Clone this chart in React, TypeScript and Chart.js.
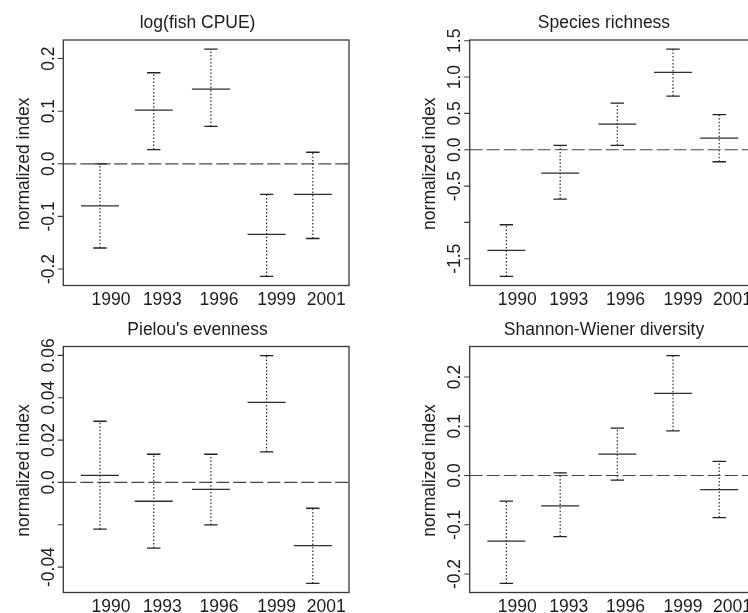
import { useEffect, useRef } from "react";
import { Chart, registerables } from "chart.js";

Chart.register(...registerables);

// Survey years and where each year's interval sits on the shared x axis
const yearLabels = ["1990", "1993", "1996", "1999", "2001"];
const barPositions = [0.77, 1.9, 3.1, 4.27, 5.24];
const labelPositions = [1.0, 2.08, 3.27, 4.48, 5.52];

// log(fish CPUE)
const cpueMean = [-0.08, 0.102, 0.142, -0.134, -0.058];
const cpueLow = [-0.16, 0.027, 0.071, -0.214, -0.142];
const cpueHigh = [0.0, 0.173, 0.218, -0.058, 0.022];
const cpueTicks = [-0.2, -0.1, 0, 0.1, 0.2];
const cpueTickLabels = ["-0.2", "-0.1", "0.0", "0.1", "0.2"];

// Species richness
const richMean = [-1.385, -0.321, 0.353, 1.064, 0.161];
const richLow = [-1.743, -0.679, 0.06, 0.739, -0.165];
const richHigh = [-1.032, 0.06, 0.642, 1.385, 0.482];
const richTicks = [-1.5, -1.0, -0.5, 0, 0.5, 1.0, 1.5];
const richTickLabels = ["-1.5", "", "-0.5", "0.0", "0.5", "1.0", "1.5"];

// Pielou's evenness
const evenMean = [0.0033, -0.0089, -0.0033, 0.0378, -0.0299];
const evenLow = [-0.0221, -0.031, -0.0201, 0.0144, -0.0477];
const evenHigh = [0.0289, 0.0133, 0.0133, 0.0599, -0.0122];
const evenTicks = [-0.04, -0.02, 0, 0.02, 0.04, 0.06];
const evenTickLabels = ["-0.04", "", "0.0", "0.02", "0.04", "0.06"];

// Shannon-Wiener diversity
const divMean = [-0.133, -0.0617, 0.0434, 0.1668, -0.0285];
const divLow = [-0.219, -0.124, -0.0095, 0.0908, -0.0854];
const divHigh = [-0.0522, 0.0054, 0.0963, 0.2434, 0.0285];
const divTicks = [-0.2, -0.1, 0, 0.1, 0.2];
const divTickLabels = ["-0.2", "-0.1", "0.0", "0.1", "0.2"];

const FONT = '17.5px "Liberation Sans", Arial, sans-serif';
const TEXT = "#1c1c1c";
const X_MIN = 0;
const X_MAX = 6;

// Box, ticks and all text around each panel, placed through the chart's scales
const framePlugin = {
  id: "frame",
  afterDraw(chart: any, _args: any, opts: any) {
    const { ctx, chartArea: a, scales } = chart;
    const xs = scales.x;
    const ys = scales.y;
    ctx.save();

    ctx.strokeStyle = "#383838";
    ctx.lineWidth = 1.3;
    ctx.strokeRect(a.left, a.top, a.right - a.left, a.bottom - a.top);

    ctx.beginPath();
    opts.ticks.forEach((v: number) => {
      const py = ys.getPixelForValue(v);
      ctx.moveTo(a.left - 5.5, py);
      ctx.lineTo(a.left, py);
    });
    ctx.lineWidth = 1.1;
    ctx.stroke();

    ctx.font = FONT;
    ctx.fillStyle = TEXT;
    ctx.textBaseline = "alphabetic";
    ctx.textAlign = "center";

    opts.ticks.forEach((v: number, i: number) => {
      const lbl = opts.tickLabels[i];
      if (!lbl) return;
      ctx.save();
      ctx.translate(a.left - 9.5, ys.getPixelForValue(v));
      ctx.rotate(-Math.PI / 2);
      ctx.fillText(lbl, 0, 0);
      ctx.restore();
    });

    ctx.save();
    ctx.translate(a.left - 34.5, (a.top + a.bottom) / 2 + 1);
    ctx.rotate(-Math.PI / 2);
    ctx.fillText("normalized index", 0, 0);
    ctx.restore();

    opts.labelPositions.forEach((p: number, i: number) => {
      ctx.fillText(opts.labels[i], xs.getPixelForValue(p), a.bottom + 19.5);
    });

    ctx.fillText(opts.title, a.left + (a.right - a.left) * 0.47, a.top - 12);
    ctx.restore();
  },
};

type PanelProps = {
  title: string;
  mean: number[];
  low: number[];
  high: number[];
  ticks: number[];
  tickLabels: string[];
  boxLeft: number;
  boxTop: number;
  boxWidth: number;
  boxHeight: number;
};

const PAD_L = 72;
const PAD_T = 46;
const PAD_R = 30;
const PAD_B = 30;

function Panel(p: PanelProps) {
  const ref = useRef<HTMLCanvasElement | null>(null);
  const canvasLeft = Math.floor(p.boxLeft) - PAD_L;
  const canvasTop = Math.floor(p.boxTop) - PAD_T;
  const cw = Math.ceil(p.boxWidth) + PAD_L + PAD_R;
  const ch = Math.ceil(p.boxHeight) + PAD_T + PAD_B;

  useEffect(() => {
    if (!ref.current) return;
    const lo = Math.min(...p.low);
    const hi = Math.max(...p.high);
    const ext = (hi - lo) * 0.04;

    const datasets: any[] = [];
    p.mean.forEach((m, i) => {
      datasets.push({
        data: [{ x: barPositions[i], y: m }],
        showLine: false,
        pointStyle: "line",
        pointRadius: 19,
        pointBorderWidth: 1.3,
        pointBorderColor: "#2e2e2e",
      });
    });
    p.low.forEach((l, i) => {
      datasets.push({
        data: [
          { x: barPositions[i], y: l },
          { x: barPositions[i], y: p.high[i] },
        ],
        borderColor: "#2a2a2a",
        borderWidth: 1.2,
        borderDash: [1.5, 2],
        pointStyle: "line",
        pointRadius: 6.7,
        pointBorderWidth: 1.3,
        pointBorderColor: "#222",
      });
    });
    datasets.push({
      data: [
        { x: X_MIN, y: 0 },
        { x: X_MAX, y: 0 },
      ],
      borderColor: "#444",
      borderWidth: 1.2,
      borderDash: [13, 4],
      pointRadius: 0,
    });

    const chart = new Chart(ref.current, {
      type: "line",
      data: { datasets },
      options: {
        animation: false,
        responsive: false,
        events: [],
        layout: {
          padding: {
            left: p.boxLeft - canvasLeft,
            top: p.boxTop - canvasTop,
            right: cw - (p.boxLeft - canvasLeft) - p.boxWidth,
            bottom: ch - (p.boxTop - canvasTop) - p.boxHeight,
          },
        },
        scales: {
          x: { type: "linear", min: X_MIN, max: X_MAX, display: false },
          y: { type: "linear", min: lo - ext, max: hi + ext, display: false },
        },
        plugins: {
          legend: { display: false },
          tooltip: { enabled: false },
          frame: {
            ticks: p.ticks,
            tickLabels: p.tickLabels,
            labels: yearLabels,
            labelPositions,
            title: p.title,
          },
        } as any,
      },
      plugins: [framePlugin],
    });
    return () => chart.destroy();
  }, []);

  return (
    <canvas
      ref={ref}
      width={cw}
      height={ch}
      style={{ position: "absolute", left: canvasLeft, top: canvasTop, width: cw, height: ch }}
    />
  );
}

export default function App() {
  const w = 285.7;
  return (
    <div
      style={{
        position: "absolute",
        left: 0,
        top: 0,
        width: 748,
        height: 613,
        overflow: "hidden",
        background: "#fff",
      }}
    >
      <Panel title="log(fish CPUE)" mean={cpueMean} low={cpueLow} high={cpueHigh}
        ticks={cpueTicks} tickLabels={cpueTickLabels}
        boxLeft={63.3} boxTop={40} boxWidth={w} boxHeight={245.5} />
      <Panel title="Species richness" mean={richMean} low={richLow} high={richHigh}
        ticks={richTicks} tickLabels={richTickLabels}
        boxLeft={469.7} boxTop={40} boxWidth={w} boxHeight={245.5} />
      <Panel title="Pielou's evenness" mean={evenMean} low={evenLow} high={evenHigh}
        ticks={evenTicks} tickLabels={evenTickLabels}
        boxLeft={63.3} boxTop={346.5} boxWidth={w} boxHeight={246} />
      <Panel title="Shannon-Wiener diversity" mean={divMean} low={divLow} high={divHigh}
        ticks={divTicks} tickLabels={divTickLabels}
        boxLeft={469.7} boxTop={346.5} boxWidth={w} boxHeight={246} />
    </div>
  );
}
